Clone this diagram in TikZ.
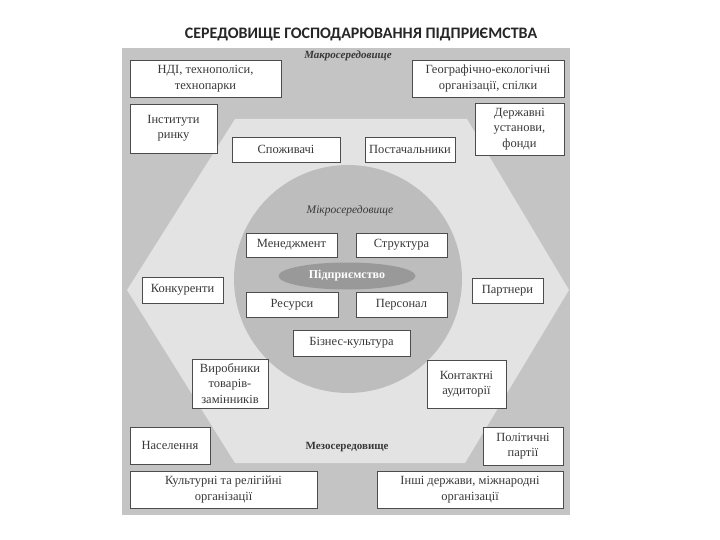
\documentclass[tikz,border=0pt]{standalone}
\usepackage{fontspec}
\setmainfont{Liberation Serif}
\newfontfamily\titlefont{Carlito}
\usepackage{xcolor}
\usepackage{tikz}
\usetikzlibrary{shapes.geometric}

\definecolor{macrogray}{gray}{0.77}
\definecolor{mesogray}{gray}{0.89}
\definecolor{microgray}{gray}{0.74}
\definecolor{firmgray}{gray}{0.60}
\definecolor{boxline}{gray}{0.30}
\definecolor{inkgray}{gray}{0.22}

\newcommand{\boxfont}{\fontsize{12.5}{15.5}\selectfont}
\tikzset{
    envbox/.style={draw=boxline, line width=0.9pt, fill=white, text=inkgray,
        align=center, inner sep=0pt, font=\boxfont},
    envname/.style={text=inkgray, inner sep=0pt}
}

\begin{document}
\begin{tikzpicture}[x=10pt,y=-10pt]
        \useasboundingbox (0,0) rectangle (72,54);

        % three layers: macro, meso, micro
        \fill[macrogray] (12.2,4.8) rectangle (57,51.5);
        \fill[mesogray] (23.5,11.9) -- (46.7,11.9) -- (56.9,29) -- (46.5,46.3)
            -- (23.5,46.3) -- (12.7,29) -- cycle;
        \fill[microgray] (34.8,27.9) circle (11.4);

        % title and layer names
        \node[font=\titlefont\bfseries\fontsize{16}{18}\selectfont, text=black!85] (title)
            at (36.1,3.4) {СЕРЕДОВИЩЕ ГОСПОДАРЮВАННЯ ПІДПРИЄМСТВА};
        \node[envname, font=\bfseries\itshape\fontsize{11}{13}\selectfont] (macro)
            at (34.8,5.6) {Макросередовище};
        \node[envname, font=\itshape\fontsize{11.5}{13}\selectfont] (micro)
            at (35,21.1) {Мікросередовище};
        \node[envname, font=\bfseries\fontsize{11}{13}\selectfont] (meso)
            at (34.7,44.7) {Мезосередовище};

        % the firm itself
        \node[ellipse, fill=firmgray, minimum width=137pt, minimum height=27pt,
            inner sep=0pt, text=white, font=\bfseries\fontsize{12}{14}\selectfont] (firm)
            at (34.7,27.6) {Підприємство};

        % macro boxes
        \node[envbox, minimum width=151pt, minimum height=37pt] (ndi)
            at (20.55,7.85) {НДІ, технополіси,\\технопарки};
        \node[envbox, minimum width=152pt, minimum height=37pt] (geo)
            at (48.8,7.85) {Географічно-екологічні\\організації, спілки};
        \node[envbox, minimum width=87pt, minimum height=49pt] (inst)
            at (17.35,12.85) {Інститути\\ринку};
        \node[envbox, minimum width=89pt, minimum height=52pt] (derzh)
            at (51.95,12.9) {Державні\\установи,\\фонди};
        \node[envbox, minimum width=80pt, minimum height=37pt] (naselen)
            at (17,44.55) {Населення};
        \node[envbox, minimum width=80pt, minimum height=38pt] (polit)
            at (52.3,44.6) {Політичні\\партії};
        \node[envbox, minimum width=187pt, minimum height=37pt] (kult)
            at (22.35,48.95) {Культурні та релігійні\\організації};
        \node[envbox, minimum width=186pt, minimum height=37pt] (inshi)
            at (47,48.95) {Інші держави, міжнародні\\організації};

        % meso boxes
        \node[envbox, minimum width=108pt, minimum height=25pt] (spozh)
            at (28.6,14.95) {Споживачі};
        \node[envbox, minimum width=90pt, minimum height=25pt] (postach)
            at (41,14.95) {Постачальники};
        \node[envbox, minimum width=81pt, minimum height=26pt] (konk)
            at (18.25,29) {Конкуренти};
        \node[envbox, minimum width=71pt, minimum height=25pt] (partn)
            at (50.75,29.05) {Партнери};
        \node[envbox, minimum width=76pt, minimum height=49pt] (vyrob)
            at (23,38.35) {Виробники\\товарів-\\замінників};
        \node[envbox, minimum width=79pt, minimum height=48pt] (kontakt)
            at (46.65,38.4) {Контактні\\аудиторії};

        % micro boxes
        \node[envbox, minimum width=91pt, minimum height=24pt] (menedzh)
            at (29.15,24.5) {Менеджмент};
        \node[envbox, minimum width=91pt, minimum height=24pt] (strukt)
            at (40.15,24.5) {Структура};
        \node[envbox, minimum width=92pt, minimum height=25pt] (resursy)
            at (29.2,30.45) {Ресурси};
        \node[envbox, minimum width=91pt, minimum height=25pt] (personal)
            at (40.15,30.45) {Персонал};
        \node[envbox, minimum width=117pt, minimum height=26pt] (biznes)
            at (35.15,34.3) {Бізнес-культура};

    \end{tikzpicture}
\end{document}
